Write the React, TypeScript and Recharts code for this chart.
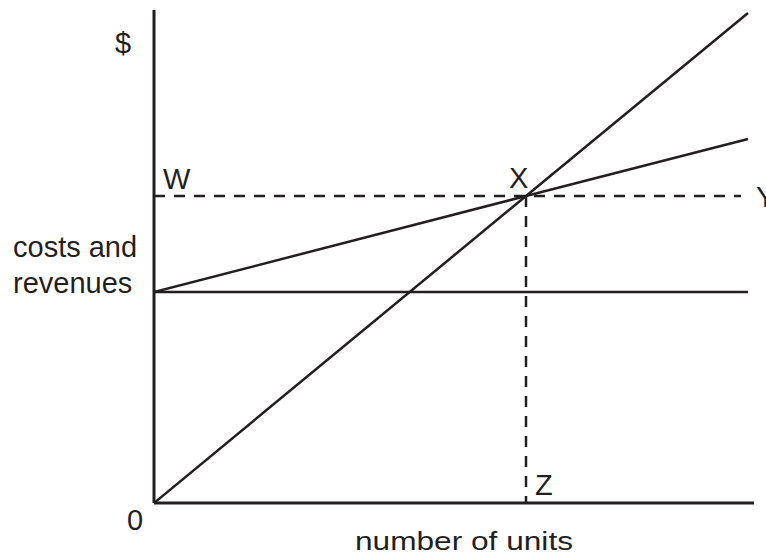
import { LineChart, Line, XAxis, YAxis, ReferenceLine } from "recharts";

// break-even chart, values in arbitrary units
const units = [0, 372, 594];
const revenue = [0, 307, 490];
const totalCost = [211, 307, 364];
const fixedCost = [211, 211, 211];

const unitsMax = 600;
const valueMax = 493;
const breakEvenUnits = 372;
const breakEvenValue = 307;
const dashedEndUnits = 587;

const INK = "#231f20";
const FONT = "'Liberation Sans', Arial, Helvetica, sans-serif";

const data = units.map((u, i) => ({
  units: u,
  revenue: revenue[i],
  totalCost: totalCost[i],
  fixedCost: fixedCost[i],
}));

const labelStyle = { fontFamily: FONT, fontSize: 29, fill: INK };

const App = () => {
  return (
    <div style={{ position: "absolute", left: 0, top: 0, width: 766, height: 556, background: "#fff" }}>
      <LineChart
        width={766}
        height={556}
        data={data}
        margin={{ top: 10, right: 12, bottom: 53, left: 154 }}
      >
        <XAxis type="number" dataKey="units" domain={[0, unitsMax]} allowDataOverflow hide />
        <YAxis type="number" domain={[0, valueMax]} allowDataOverflow hide />
        {/* axes */}
        <ReferenceLine
          segment={[
            { x: 0, y: 0 },
            { x: 0, y: valueMax },
          ]}
          stroke={INK}
          strokeWidth={3}
          ifOverflow="visible"
        />
        <ReferenceLine
          segment={[
            { x: 0, y: 0 },
            { x: unitsMax, y: 0 },
          ]}
          stroke={INK}
          strokeWidth={3}
          ifOverflow="visible"
        />
        <ReferenceLine
          segment={[
            { x: 0, y: breakEvenValue },
            { x: dashedEndUnits, y: breakEvenValue },
          ]}
          stroke={INK}
          strokeWidth={2.5}
          strokeDasharray="11 9"
          ifOverflow="visible"
        />
        <ReferenceLine
          segment={[
            { x: breakEvenUnits, y: breakEvenValue },
            { x: breakEvenUnits, y: 0 },
          ]}
          stroke={INK}
          strokeWidth={2.5}
          strokeDasharray="11 9"
          ifOverflow="visible"
        />
        <Line type="linear" dataKey="fixedCost" stroke={INK} strokeWidth={2.5} dot={false} isAnimationActive={false} />
        <Line type="linear" dataKey="totalCost" stroke={INK} strokeWidth={2.5} dot={false} isAnimationActive={false} />
        <Line type="linear" dataKey="revenue" stroke={INK} strokeWidth={2.5} dot={false} isAnimationActive={false} />
      </LineChart>
      <svg
        width={766}
        height={556}
        style={{ position: "absolute", left: 0, top: 0, pointerEvents: "none" }}
      >
        <text x={123} y={53} textAnchor="middle" {...labelStyle}>$</text>
        <text x={13} y={257} {...labelStyle}>costs and</text>
        <text x={13} y={293} {...labelStyle}>revenues</text>
        <text x={163} y={189} {...labelStyle}>W</text>
        <text x={509} y={188} {...labelStyle}>X</text>
        <text x={756} y={207} {...labelStyle}>Y</text>
        <text x={535} y={495} {...labelStyle}>Z</text>
        <text x={127} y={530} {...labelStyle}>0</text>
        <text
          x={355}
          y={550}
          {...labelStyle}
          fontSize={26}
          textLength={218}
          lengthAdjust="spacingAndGlyphs"
        >
          number of units
        </text>
      </svg>
    </div>
  );
};

export default App;
